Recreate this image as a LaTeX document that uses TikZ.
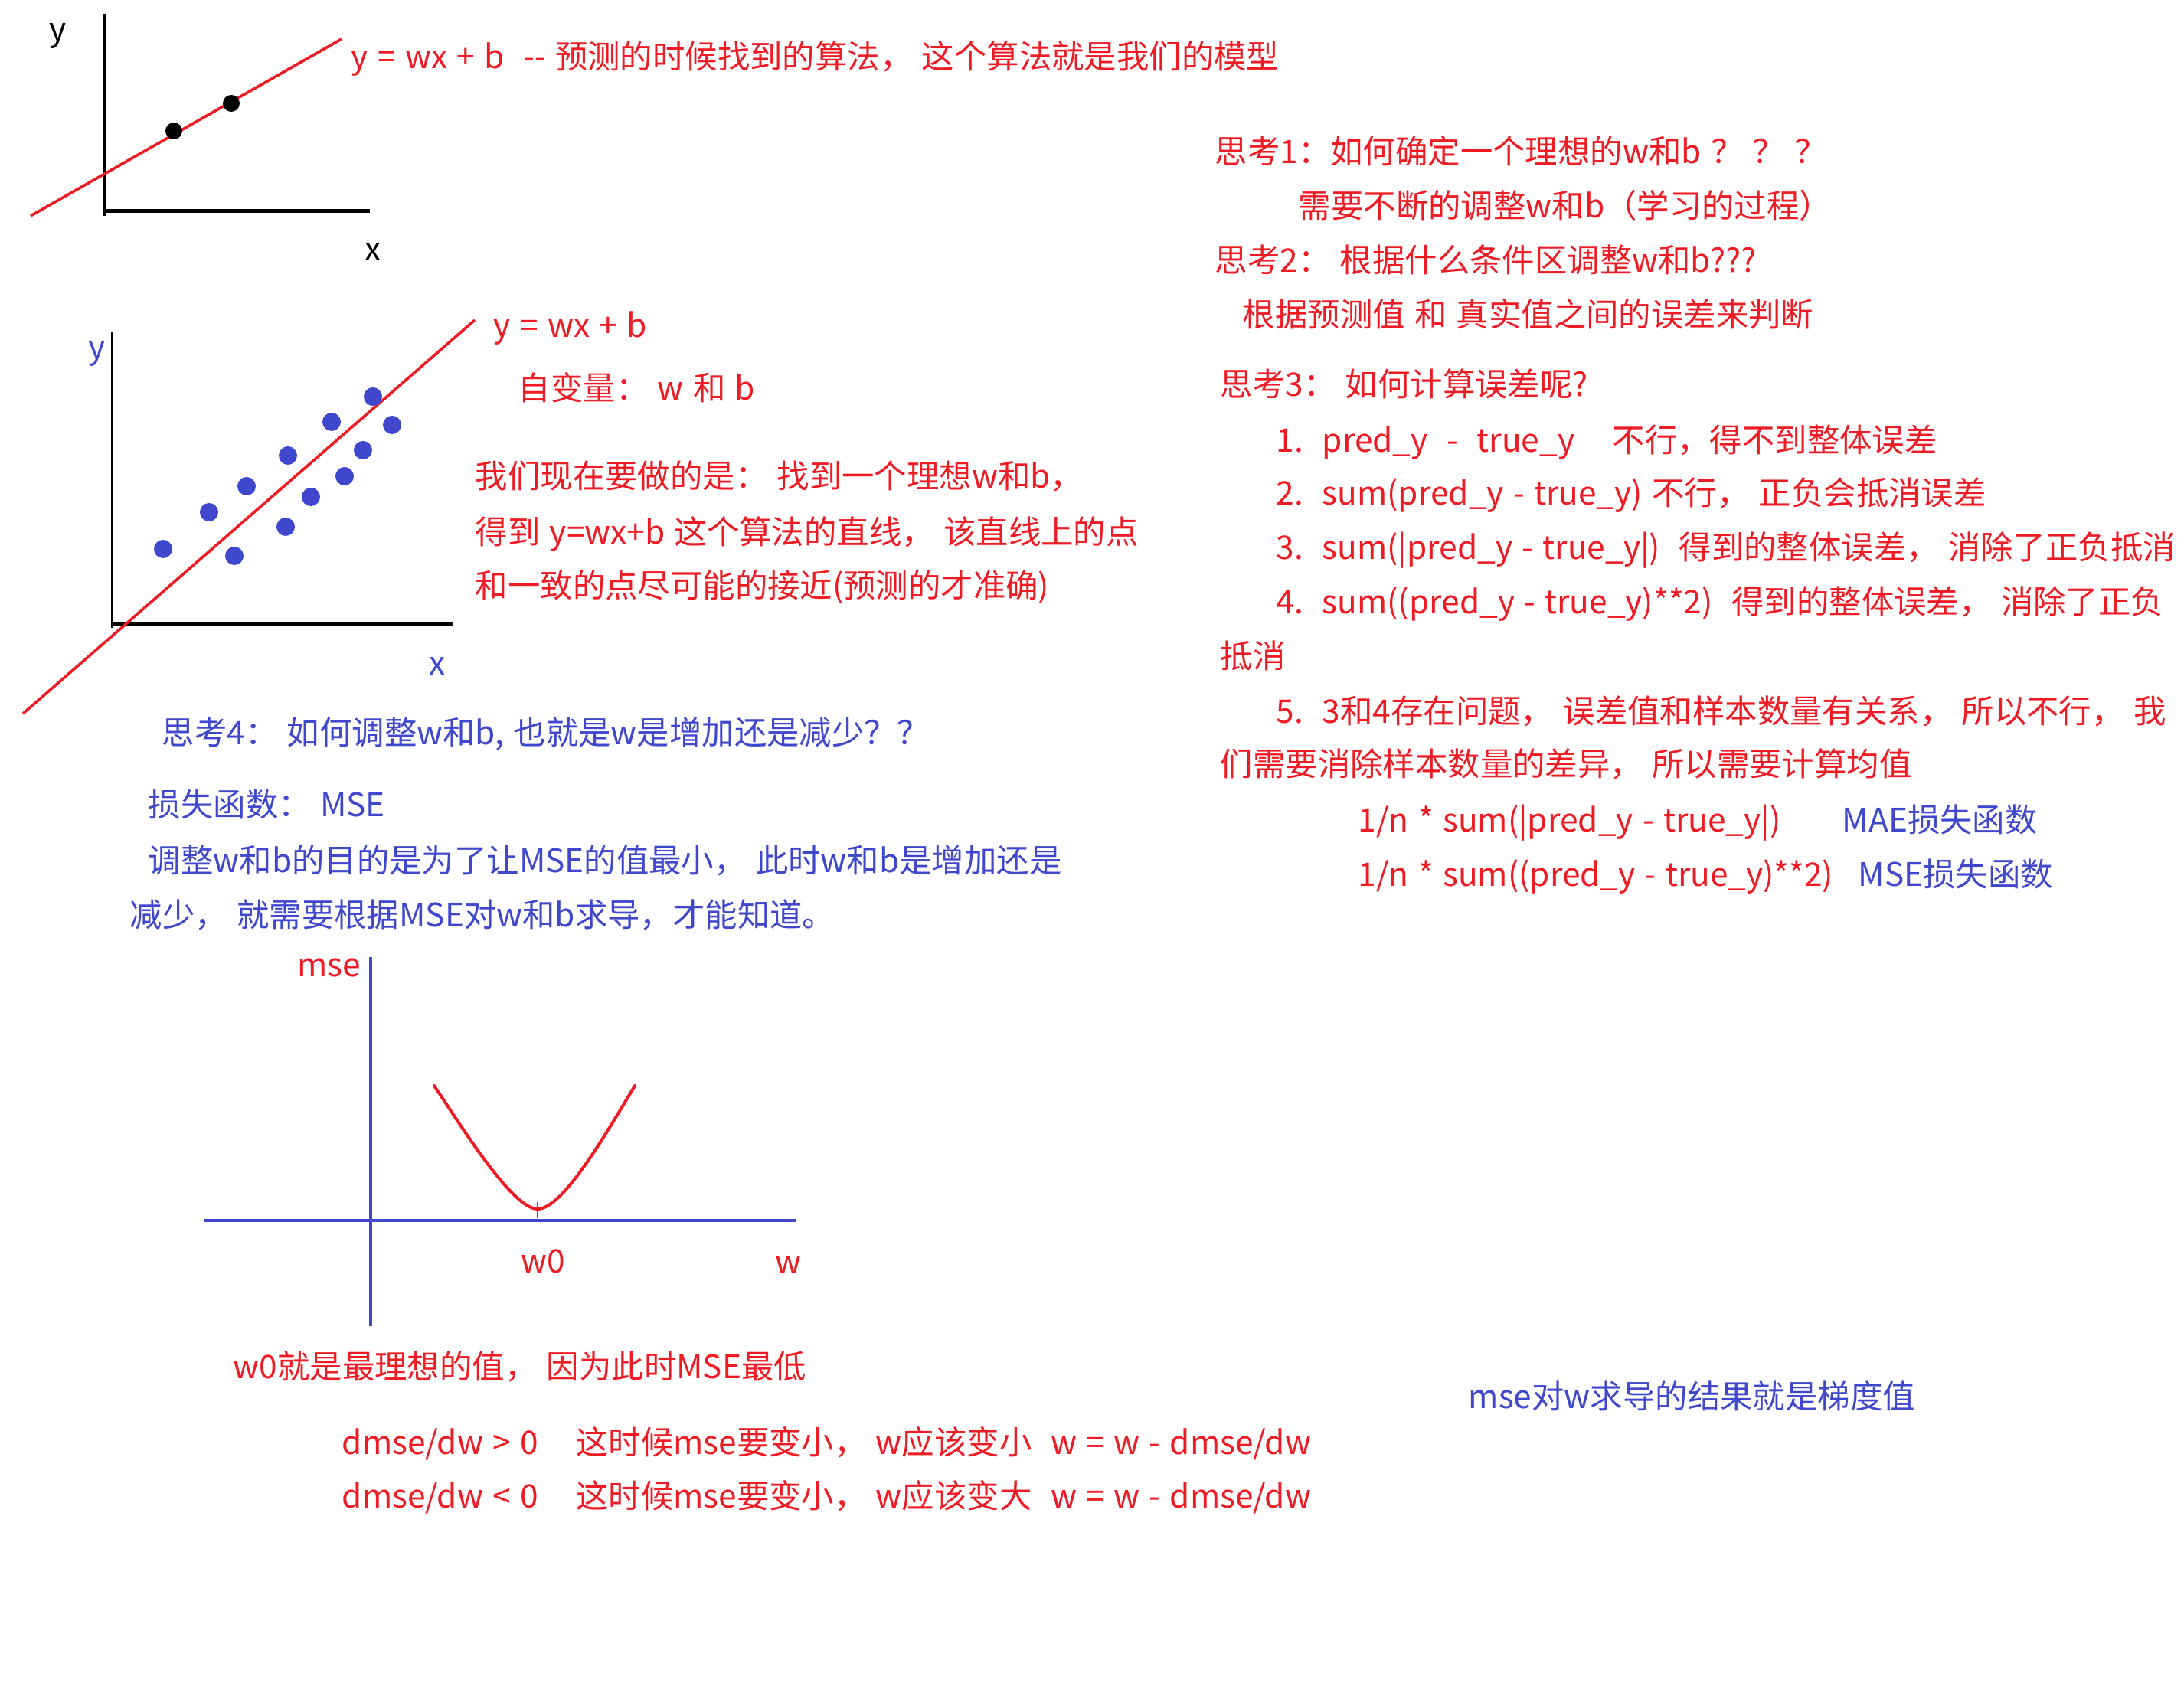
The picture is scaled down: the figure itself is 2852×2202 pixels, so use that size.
\documentclass[tikz,border=0pt]{standalone}
\usepackage{fontspec}
\setmainfont{Noto Sans CJK SC}[WordSpace=1.3]
\definecolor{inkred}{RGB}{237,28,36}
\definecolor{inkblue}{RGB}{63,72,204}
\begin{document}
\begin{tikzpicture}[x=0.25pt,y=-0.25pt,
  note/.style={anchor=west, inner sep=0pt, text height=9pt, text depth=2pt, font=\fontsize{10.6pt}{12pt}\selectfont},
  rednote/.style={note, text=inkred},
  bluenote/.style={note, text=inkblue},
  axislabel/.style={note, anchor=center}]
\fill[white] (0,0) rectangle (2852,2202);
\draw[line width=0.75pt] (136,18) -- (136,282);
\draw[line width=1.25pt] (136,276) -- (483,276);
\draw[inkred, line width=0.9pt] (40,282) -- (446,51);
\fill (227,171) circle[radius=11];
\fill (302,135) circle[radius=11];
\node[axislabel] (topy) at (76,40) {y};
\node[axislabel] (topx) at (487,327) {x};
\node[rednote] (model) at (458,76) {y = wx + b~~-{}- 预测的时候找到的算法，~这个算法就是我们的模型};
\draw[line width=0.75pt] (146,433) -- (146,820);
\draw[line width=1.25pt] (146,816) -- (591,816);
\draw[inkred, line width=0.9pt] (30,932) -- (620,418);
\fill[inkblue] (213,717) circle[radius=12];
\fill[inkblue] (306,726) circle[radius=12];
\fill[inkblue] (273,669) circle[radius=12];
\fill[inkblue] (322,635) circle[radius=12];
\fill[inkblue] (373,688) circle[radius=12];
\fill[inkblue] (406,649) circle[radius=12];
\fill[inkblue] (376,595) circle[radius=12];
\fill[inkblue] (450,622) circle[radius=12];
\fill[inkblue] (433,551) circle[radius=12];
\fill[inkblue] (474,588) circle[radius=12];
\fill[inkblue] (487,518) circle[radius=12];
\fill[inkblue] (512,555) circle[radius=12];
\node[axislabel, text=inkblue] (fity) at (127,455) {y};
\node[axislabel, text=inkblue] (fitx) at (571,868) {x};
\node[rednote] (fitline) at (644,427) {y = wx + b};
\node[rednote] (variables) at (676,509) {自变量：~w 和 b};
\node[rednote] (goalA) at (620,624) {我们现在要做的是：~找到一个理想w和b，};
\node[rednote] (goalB) at (620,697) {得到 y=wx+b 这个算法的直线，~该直线上的点};
\node[rednote] (goalC) at (620,767) {和一致的点尽可能的接近(预测的才准确)};
\node[rednote] (thinkA) at (1586,200) {思考1：如何确定一个理想的w和b~？~？~？};
\node[rednote] (thinkAans) at (1695,271) {需要不断的调整w和b（学习的过程）};
\node[rednote] (thinkB) at (1586,342) {思考2：~根据什么条件区调整w和b???};
\node[rednote] (thinkBans) at (1622,413) {根据预测值 和 真实值之间的误差来判断};
\node[rednote] (thinkC) at (1593,504) {思考3：~如何计算误差呢?};
\node[rednote] (errA) at (1666,577) {1.~~pred\_y~~-~~true\_y~~~~不行，得不到整体误差};
\node[rednote] (errB) at (1666,646) {2.~~sum(pred\_y - true\_y) 不行，~正负会抵消误差};
\node[rednote] (errC) at (1666,717) {3.~~sum(|pred\_y - true\_y|)~~得到的整体误差，~消除了正负抵消};
\node[rednote] (errD) at (1666,788) {4.~~sum((pred\_y - true\_y)**2)~~得到的整体误差，~消除了正负};
\node[rednote] (errDwrap) at (1593,859) {抵消};
\node[rednote] (errE) at (1666,931) {5.~~3和4存在问题，~误差值和样本数量有关系，~所以不行，~我};
\node[rednote] (errEwrap) at (1593,1000) {们需要消除样本数量的差异，~所以需要计算均值};
\node[rednote] (maeformula) at (1773,1073) {1/n * sum(|pred\_y - true\_y|)};
\node[bluenote] (maename) at (2405,1073) {MAE损失函数};
\node[rednote] (mseformula) at (1773,1144) {1/n * sum((pred\_y - true\_y)**2)};
\node[bluenote] (msename) at (2426,1144) {MSE损失函数};
\node[bluenote] (thinkD) at (211,959) {思考4：~如何调整w和b, 也就是w是增加还是减少？？};
\node[bluenote] (loss) at (193,1053) {损失函数：~MSE};
\node[bluenote] (lossA) at (193,1126) {调整w和b的目的是为了让MSE的值最小，~此时w和b是增加还是};
\node[bluenote] (lossB) at (169,1197) {减少，~就需要根据MSE对w和b求导，才能知道。};
\draw[inkblue, line width=1pt] (484,1250) -- (484,1732);
\draw[inkblue, line width=1.1pt] (267,1594) -- (1039,1594);
\draw[inkred, line width=1pt, line cap=round] (567,1418) .. controls (607,1478) and (670,1579) .. (702,1579) .. controls (735,1579) and (791,1481) .. (829,1418);
\draw[inkred, line width=0.5pt] (702,1570) -- (702,1591);
\node[rednote, anchor=east] (mselabel) at (472,1262) {mse};
\node[axislabel, text=inkred] (wzero) at (709,1648) {w0};
\node[axislabel, text=inkred] (wlabel) at (1029,1650) {w};
\node[rednote] (best) at (304,1786) {w0就是最理想的值，~因为此时MSE最低};
\node[rednote] (stepA) at (446,1885) {dmse/dw > 0~~~~这时候mse要变小，~w应该变小~~w = w - dmse/dw};
\node[rednote] (stepB) at (446,1955) {dmse/dw < 0~~~~这时候mse要变小，~w应该变大~~w = w - dmse/dw};
\node[bluenote] (gradient) at (1917,1825) {mse对w求导的结果就是梯度值};
\end{tikzpicture}
\end{document}
